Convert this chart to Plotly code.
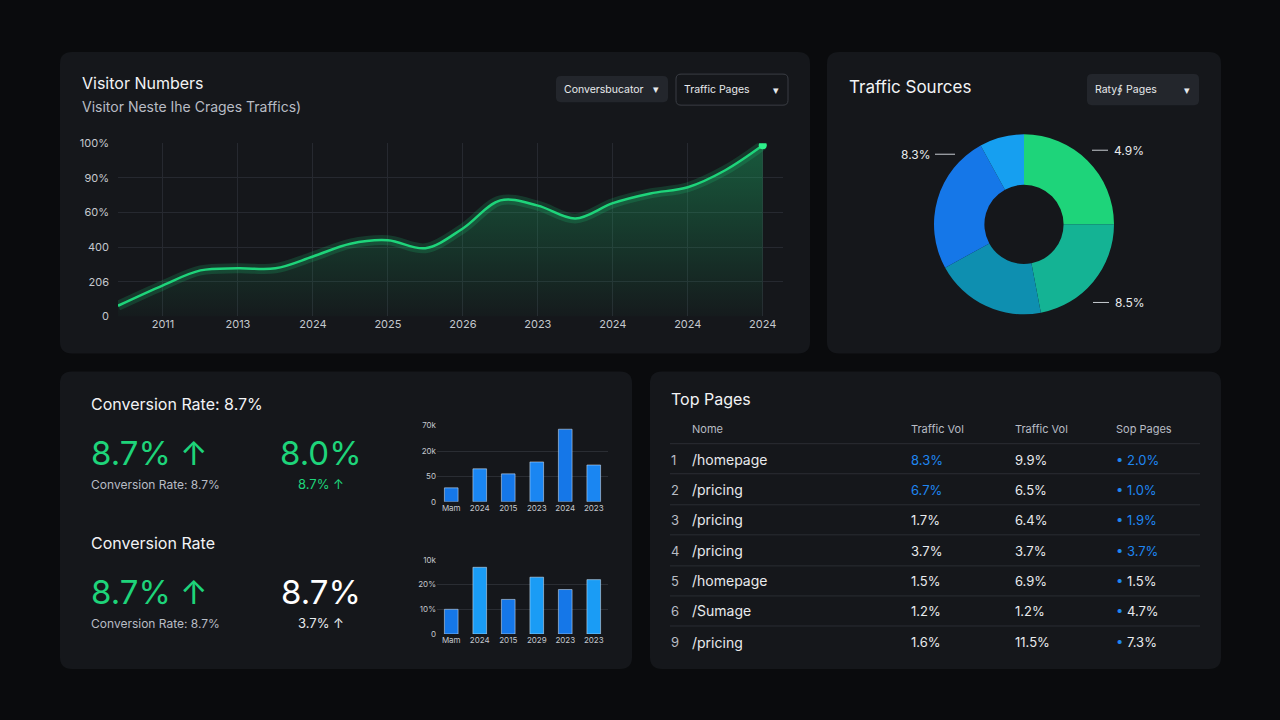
import plotly.graph_objects as go

W, H = 1280, 720

# ---------------- DATA ---------------- #
visit_x = [-0.6, 0, 0.5, 1, 1.5, 2, 2.5, 3, 3.5, 4, 4.5, 5, 5.5, 6, 6.5, 7, 7.5, 8]
visit_y = [0.31, 0.9, 1.33, 1.39, 1.39, 1.73, 2.1, 2.2, 1.97, 2.54, 3.35, 3.2, 2.83, 3.27, 3.55, 3.73, 4.22, 4.94]
visit_xticks = ['2011', '2013', '2024', '2025', '2026', '2023', '2024', '2024', '2024']
visit_yticks = ['0', '206', '400', '60%', '90%', '100%']

source_values = [25, 22, 20, 25, 8]
source_colors = ['#1ed47a', '#14b394', '#0e8fb0', '#1577e8', '#169ff0']
source_labels = ['8.3%', '4.9%', '8.5%']

bar1_labels = ['Mam', '2024', '2015', '2023', '2024', '2023']
bar1_values = [0.55, 1.3, 1.1, 1.57, 2.86, 1.45]
bar1_yticks = ['0', '50', '20k', '70k']

bar2_labels = ['Mam', '2024', '2015', '2029', '2023', '2023']
bar2_values = [1.0, 2.7, 1.4, 2.3, 1.8, 2.2]
bar2_yticks = ['0', '10%', '20%', '10k']

page_rank = ['1', '2', '3', '4', '5', '6', '9']
page_name = ['/homepage', '/pricing', '/pricing', '/pricing', '/homepage', '/Sumage', '/pricing']
page_vol1 = ['8.3%', '6.7%', '1.7%', '3.7%', '1.5%', '1.2%', '1.6%']
page_vol2 = ['9.9%', '6.5%', '6.4%', '3.7%', '6.9%', '1.2%', '11.5%']
page_sop = ['2.0%', '1.0%', '1.9%', '3.7%', '1.5%', '4.7%', '7.3%']
vol1_blue = [True, True, False, False, False, False, False]
sop_blue = [True, True, True, True, False, False, False]


def px(x):
    return x / W


def py(y):
    # small correction for the vertical offset seen in the rendered page
    y = (y - 7) / 0.979
    return 1 - y / H


def rounded(x0, y0, x1, y1, r=12):
    a0, a1 = px(x0), px(x1)
    b0, b1 = py(y0), py(y1)
    rx, ry = r / W, r / H
    return (f"M{a0+rx},{b0} L{a1-rx},{b0} Q{a1},{b0} {a1},{b0-ry} "
            f"L{a1},{b1+ry} Q{a1},{b1} {a1-rx},{b1} L{a0+rx},{b1} "
            f"Q{a0},{b1} {a0},{b1+ry} L{a0},{b0-ry} Q{a0},{b0} {a0+rx},{b0} Z")


fig = go.Figure()
shapes = []
ann = []


def text(x, y, s, size=12, color='#e8eaed', anchor='left', weight=None):
    ann.append(dict(x=px(x - 2 if anchor == 'left' else x), y=py(y), xref='paper', yref='paper', text=s,
                    showarrow=False, xanchor=anchor, yanchor='middle',
                    font=dict(size=size, color=color, family='Inter', weight=weight)))


# panels
for box in [(60, 52, 810, 353), (827, 52, 1221, 353), (60, 371, 632, 668), (650, 371, 1221, 668)]:
    shapes.append(dict(type='path', path=rounded(*box), xref='paper', yref='paper',
                       fillcolor='#15171b', line=dict(width=0), layer='below'))

# dropdowns
for (x0, y0, x1, y1, label, border) in [(556, 76, 668, 102, 'Conversbucator', False),
                                        (676, 74, 788, 105, 'Traffic Pages', True),
                                        (1087, 74, 1199, 105, 'Raty∮ Pages', False)]:
    shapes.append(dict(type='path', path=rounded(x0, y0, x1, y1, 5), xref='paper', yref='paper',
                       fillcolor='#23262c' if not border else '#15171b',
                       line=dict(width=1 if border else 0, color='#3a3d44'), layer='below'))
    text(x0 + 8, (y0 + y1) / 2, label, 10.5, '#e8eaed')
    text(x1 - 12, (y0 + y1) / 2, '▾', 11, '#e8eaed', 'center')

# Visitor numbers line
fig.add_trace(go.Scatter(x=visit_x, y=visit_y, mode='lines', line=dict(shape='spline', width=10, color='rgba(30,212,122,0.18)'),
                         hoverinfo='skip', showlegend=False, xaxis='x', yaxis='y'))
fig.add_trace(go.Scatter(x=visit_x, y=visit_y, mode='lines', line=dict(shape='spline', width=2.5, color='#1ed47a'),
                         fill='tozeroy',
                         fillgradient=dict(type='vertical', colorscale=[[0, 'rgba(30,212,122,0.02)'], [1, 'rgba(30,212,122,0.35)']]),
                         showlegend=False, xaxis='x', yaxis='y'))
fig.add_trace(go.Scatter(x=visit_x[-1:], y=visit_y[-1:], mode='markers', marker=dict(size=8, color='#2ef08a'),
                         showlegend=False, xaxis='x', yaxis='y'))

text(82, 83, 'Visitor Numbers', 16, '#f2f3f5')
text(82, 106, 'Visitor Neste Ihe Crages Traffics)', 14, '#b8bcc4')

# donut
fig.add_trace(go.Pie(values=source_values, marker=dict(colors=source_colors, line=dict(width=0)),
                     hole=0.44, sort=False, direction='clockwise', rotation=0, textinfo='none',
                     showlegend=False, domain=dict(x=[px(934), px(1114)], y=[py(314), py(134)])))
text(849, 87, 'Traffic Sources', 17, '#f2f3f5')
text(901, 154, source_labels[0], 12)
text(1114, 150, source_labels[1], 12)
text(1115, 302, source_labels[2], 12)
for (x0, y0, x1) in [(935, 154, 955), (1092, 150, 1108), (1093, 302, 1109)]:
    shapes.append(dict(type='line', xref='paper', yref='paper', x0=px(x0), x1=px(x1), y0=py(y0), y1=py(y0),
                       line=dict(color='#c8ccd2', width=1)))

# bar charts
fig.add_trace(go.Bar(x=list(range(6)), y=bar1_values, marker=dict(color=['#1577e8', '#1a86f2'] * 3), width=0.48,
                     showlegend=False, xaxis='x2', yaxis='y2'))
fig.add_trace(go.Bar(x=list(range(6)), y=bar2_values, marker=dict(color=['#1577e8', '#1a9cf5'] * 3), width=0.48,
                     showlegend=False, xaxis='x3', yaxis='y3'))

# KPIs
text(91, 403, 'Conversion Rate: 8.7%', 16, '#f2f3f5')
text(91, 452, '8.7% ↑', 33, '#1ed47a')
text(91, 484, 'Conversion Rate: 8.7%', 12, '#b8bcc4')
text(321, 452, '8.0%', 33, '#1ed47a', 'center')
text(321, 483, '8.7% ↑', 13, '#1ed47a', 'center')
text(91, 542, 'Conversion Rate', 16, '#f2f3f5')
text(91, 591, '8.7% ↑', 33, '#1ed47a')
text(91, 623, 'Conversion Rate: 8.7%', 12, '#b8bcc4')
text(321, 591, '8.7%', 33, '#ffffff', 'center')
text(321, 622, '3.7% ↑', 13, '#e8eaed', 'center')

# table
text(671, 398, 'Top Pages', 16, '#f2f3f5')
text(692, 428, 'Nome', 11, '#b8bcc4')
text(911, 428, 'Traffic Vol', 11, '#b8bcc4')
text(1015, 428, 'Traffic Vol', 11, '#b8bcc4')
text(1116, 428, 'Sop Pages', 11, '#b8bcc4')
row_y = [459, 489, 519, 550, 580, 610, 641]
for i, y in enumerate(row_y):
    text(671, y, page_rank[i], 13, '#b8bcc4')
    text(692, y, page_name[i], 14, '#e8eaed')
    text(911, y, page_vol1[i], 13, '#1f86f0' if vol1_blue[i] else '#e8eaed')
    text(1015, y, page_vol2[i], 13, '#e8eaed')
    text(1116, y, '<span style="color:#1f86f0">•</span> ' + page_sop[i], 13, '#1f86f0' if sop_blue[i] else '#e8eaed')
for y in [443, 473, 504, 534, 565, 595, 625]:
    shapes.append(dict(type='line', xref='paper', yref='paper', x0=px(670), x1=px(1200), y0=py(y), y1=py(y),
                       line=dict(color='#2a2d33', width=1)))

axis_font = dict(size=11, color='#c4c8ce', family='Inter')
small_font = dict(size=8, color='#c4c8ce', family='Inter')

fig.update_layout(
    width=W, height=H, margin=dict(l=0, r=0, t=0, b=0),
    paper_bgcolor='#0a0b0d', plot_bgcolor='rgba(0,0,0,0)',
    shapes=shapes, annotations=ann, bargap=0.5,
    xaxis=dict(domain=[px(118), px(783)], range=[-0.6, 8.27], tickvals=list(range(9)), ticktext=visit_xticks,
               showgrid=True, gridcolor='#262930', zeroline=False, tickfont=axis_font, ticks='', anchor='y'),
    yaxis=dict(domain=[py(316), py(143)], range=[0, 5], tickvals=list(range(6)), ticktext=visit_yticks,
               showgrid=True, gridcolor='#262930', zeroline=False, tickfont=axis_font, anchor='x', ticklabelstandoff=8),
    xaxis2=dict(domain=[px(437), px(608)], range=[-0.5, 5.5], tickvals=list(range(6)), ticktext=bar1_labels,
                showgrid=False, zeroline=False, tickfont=small_font, anchor='y2'),
    yaxis2=dict(domain=[py(501), py(425)], range=[0, 3], tickvals=list(range(4)), ticktext=bar1_yticks,
                showgrid=True, gridcolor='#2a2d33', zeroline=False, tickfont=small_font, anchor='x2'),
    xaxis3=dict(domain=[px(437), px(608)], range=[-0.5, 5.5], tickvals=list(range(6)), ticktext=bar2_labels,
                showgrid=False, zeroline=False, tickfont=small_font, anchor='y3'),
    yaxis3=dict(domain=[py(633), py(559)], range=[0, 3], tickvals=list(range(4)), ticktext=bar2_yticks,
                showgrid=True, gridcolor='#2a2d33', zeroline=False, tickfont=small_font, anchor='x3'),
)

fig.write_html("out.html", config=dict(displayModeBar=False),
               post_script="document.body.style.margin='0';document.body.style.overflow='hidden';"
                           "document.body.style.background='#0a0b0d';")
